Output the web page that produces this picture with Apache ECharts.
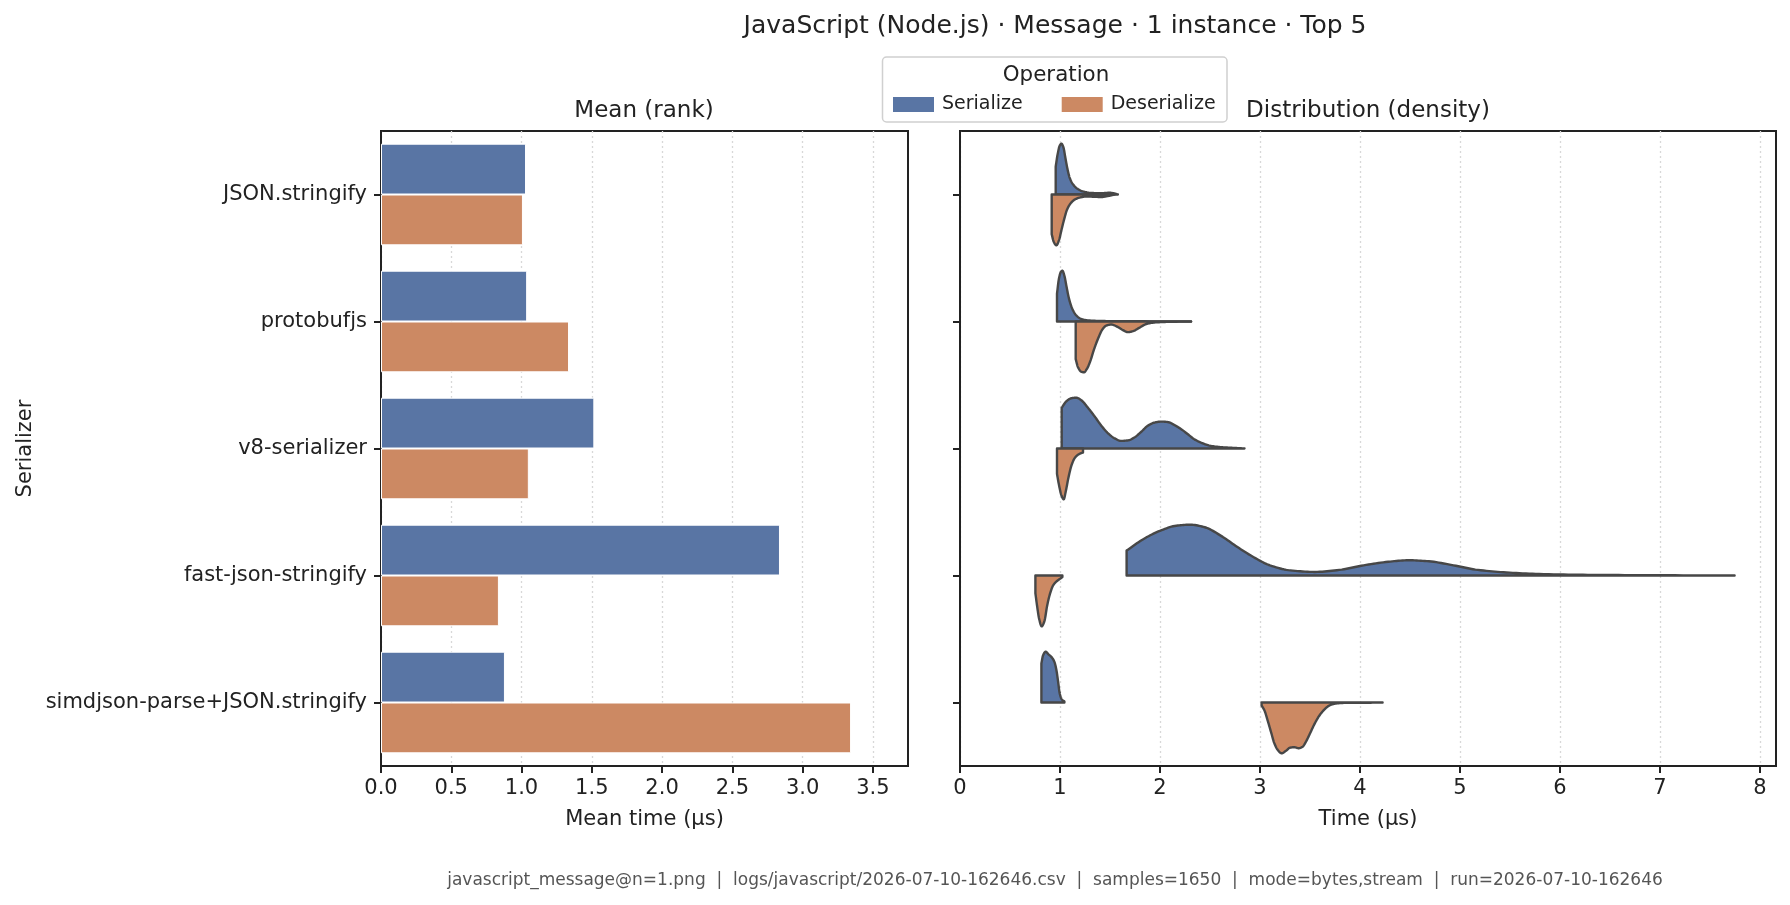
<!DOCTYPE html>
<html><head><meta charset="utf-8">
<script src="https://cdn.jsdelivr.net/npm/echarts@6/dist/echarts.min.js"></script>
<style>html,body{margin:0;padding:0;background:#fff}#chart{width:1790px;height:905px}</style>
</head><body><div id="chart"></div>
<script>
// ---------- data ----------
const categories = ['JSON.stringify', 'protobufjs', 'v8-serializer', 'fast-json-stringify', 'simdjson-parse+JSON.stringify'];
const operations = ['Serialize', 'Deserialize'];
const meanSerialize = [1.032, 1.040, 1.518, 2.839, 0.882];
const meanDeserialize = [1.010, 1.338, 1.052, 0.839, 3.345];
const meanTicks = [0, 0.5, 1, 1.5, 2, 2.5, 3, 3.5];
const timeTicks = [0, 1, 2, 3, 4, 5, 6, 7, 8];

// density outlines: [time (µs), density relative to the half-violin's peak]
const kdeJsonSer = [[0.957,0.55],[0.977,0.80],[0.997,0.96],[1.014,1.0],[1.034,0.93],[1.054,0.72],[1.074,0.51],[1.097,0.33],[1.130,0.20],[1.170,0.12],[1.230,0.06],[1.313,0.03],[1.413,0.025],[1.496,0.035],[1.546,0.02],[1.579,0.0]];
const kdeJsonDes = [[0.917,0.78],[0.937,0.93],[0.964,1.0],[0.990,0.90],[1.017,0.68],[1.044,0.47],[1.070,0.30],[1.104,0.18],[1.147,0.10],[1.197,0.06],[1.263,0.04],[1.347,0.045],[1.413,0.05],[1.480,0.03],[1.546,0.0]];
const kdeProtoSer = [[0.970,0.55],[0.990,0.85],[1.010,0.98],[1.024,1.0],[1.044,0.90],[1.064,0.70],[1.090,0.45],[1.123,0.25],[1.163,0.12],[1.213,0.05],[1.296,0.02],[1.463,0.008],[1.796,0.004],[2.311,0.0]];
const kdeProtoDes = [[1.157,0.74],[1.180,0.90],[1.214,0.99],[1.240,1.0],[1.270,0.93],[1.303,0.78],[1.340,0.55],[1.380,0.34],[1.423,0.16],[1.463,0.08],[1.513,0.06],[1.570,0.10],[1.630,0.17],[1.679,0.21],[1.730,0.19],[1.796,0.12],[1.862,0.05],[1.945,0.02],[2.062,0.008],[2.311,0.0]];
const kdeV8Ser = [[1.017,0.80],[1.064,0.93],[1.114,0.99],[1.163,1.0],[1.213,0.95],[1.280,0.80],[1.347,0.63],[1.413,0.45],[1.480,0.30],[1.546,0.20],[1.613,0.15],[1.680,0.16],[1.746,0.22],[1.813,0.33],[1.879,0.45],[1.946,0.51],[2.013,0.53],[2.079,0.52],[2.146,0.46],[2.212,0.38],[2.279,0.28],[2.345,0.18],[2.429,0.10],[2.512,0.05],[2.612,0.026],[2.729,0.013],[2.845,0.0]];
const kdeV8Des = [[0.970,0.50],[0.990,0.72],[1.014,0.92],[1.037,1.0],[1.060,0.82],[1.087,0.55],[1.117,0.32],[1.150,0.18],[1.183,0.12],[1.213,0.09],[1.230,0.08]];
const kdeFastSer = [[1.666,0.49],[1.837,0.72],[2.000,0.88],[2.163,0.98],[2.306,1.0],[2.448,0.95],[2.611,0.78],[2.774,0.56],[2.937,0.36],[3.100,0.20],[3.304,0.10],[3.548,0.07],[3.793,0.11],[4.037,0.20],[4.282,0.27],[4.486,0.30],[4.689,0.28],[4.934,0.20],[5.178,0.11],[5.464,0.06],[5.790,0.03],[6.279,0.013],[6.890,0.006],[7.746,0.0]];
const kdeFastDes = [[0.754,0.35],[0.771,0.60],[0.791,0.85],[0.817,1.0],[0.844,0.90],[0.871,0.60],[0.897,0.38],[0.930,0.20],[0.963,0.12],[0.997,0.07],[1.024,0.03]];
const kdeSimdSer = [[0.814,0.77],[0.831,0.93],[0.857,1.0],[0.884,0.95],[0.917,0.89],[0.944,0.80],[0.964,0.64],[0.981,0.41],[0.997,0.18],[1.017,0.065],[1.044,0.02]];
const kdeSimdDes = [[3.016,0.06],[3.043,0.15],[3.076,0.35],[3.110,0.58],[3.143,0.80],[3.176,0.93],[3.216,1.0],[3.260,0.95],[3.300,0.89],[3.343,0.88],[3.386,0.90],[3.426,0.87],[3.460,0.77],[3.500,0.61],[3.543,0.43],[3.593,0.26],[3.643,0.14],[3.693,0.06],[3.759,0.02],[3.892,0.005],[4.026,0.005],[4.226,0.0]];

const violinSerialize = [kdeJsonSer, kdeProtoSer, kdeV8Ser, kdeFastSer, kdeSimdSer];
const violinDeserialize = [kdeJsonDes, kdeProtoDes, kdeV8Des, kdeFastDes, kdeSimdDes];

// ---------- style ----------
const FONT = 'DejaVu Sans';
const INK = '#222222';
const BLUE = '#5975a4';
const ORANGE = '#cc8963';
const OUTLINE = '#474747';

// monotone cubic (Fritsch-Carlson) drawing of the outline, in pixel space
function smoothOutline(p) {
  const n = p.length;
  if (n < 3) return p.slice();
  const dx = [], m = [], d = [];
  for (let i = 0; i < n - 1; i++) {
    dx[i] = p[i + 1][0] - p[i][0];
    d[i] = dx[i] === 0 ? 0 : (p[i + 1][1] - p[i][1]) / dx[i];
  }
  m[0] = d[0]; m[n - 1] = d[n - 2];
  for (let i = 1; i < n - 1; i++) {
    if (d[i - 1] * d[i] <= 0) m[i] = 0;
    else {
      const w1 = 2 * dx[i] + dx[i - 1], w2 = dx[i] + 2 * dx[i - 1];
      m[i] = (w1 + w2) / (w1 / d[i - 1] + w2 / d[i]);
    }
  }
  const out = [];
  for (let i = 0; i < n - 1; i++) {
    const steps = 10;
    for (let s = 0; s < steps; s++) {
      const t = s / steps, h = dx[i];
      const h00 = 2*t*t*t - 3*t*t + 1, h10 = t*t*t - 2*t*t + t, h01 = -2*t*t*t + 3*t*t, h11 = t*t*t - t*t;
      out.push([p[i][0] + t * h, h00 * p[i][1] + h10 * h * m[i] + h01 * p[i + 1][1] + h11 * h * m[i + 1]]);
    }
  }
  out.push(p[n - 1]);
  return out;
}

function makeViolinRender(sets, sign) {
  return function (params, api) {
    const ci = params.dataIndex;
    const pts = sets[ci];
    const cy = api.coord([0, ci])[1];
    const amp = api.size([0, 1])[1] * 0.4;
    const px = pts.map(function (p) { return [api.coord([p[0], ci])[0], cy - sign * p[1] * amp]; });
    const curve = smoothOutline(px);
    const poly = [[px[0][0], cy]].concat(curve, [[px[px.length - 1][0], cy]]);
    return {
      type: 'polygon',
      shape: { points: poly },
      style: { fill: api.visual('color'), stroke: OUTLINE, lineWidth: 2.4, lineJoin: 'round' }
    };
  };
}

const tickStyle = { show: true, alignWithLabel: true, length: 7, lineStyle: { color: INK, width: 2 } };
const splitStyle = { show: true, lineStyle: { color: '#d8d8d8', width: 1.3, type: [2, 3] } };
const labelStyle = { color: INK, fontSize: 21, fontFamily: FONT };

const chart = echarts.init(document.getElementById('chart'), null, { renderer: 'canvas' });

chart.setOption({
  backgroundColor: '#ffffff',
  animation: false,
  textStyle: { fontFamily: FONT },
  grid: [
    { left: 381, top: 131, width: 527, height: 635, show: true, borderColor: INK, borderWidth: 2, backgroundColor: 'transparent' },
    { left: 960, top: 131, width: 816, height: 635, show: true, borderColor: INK, borderWidth: 2, backgroundColor: 'transparent' }
  ],
  xAxis: [
    {
      gridIndex: 0, type: 'value', min: 0, max: 3.75, interval: 0.5,
      name: 'Mean time (μs)', nameLocation: 'middle', nameGap: 43,
      nameTextStyle: { color: INK, fontSize: 21, fontFamily: FONT },
      axisLine: { show: true, lineStyle: { color: INK, width: 2 } },
      axisTick: { show: true, length: 7, lineStyle: { color: INK, width: 2 }, customValues: meanTicks },
      axisLabel: Object.assign({ margin: 12, customValues: meanTicks, formatter: function (v) { return v.toFixed(1); } }, labelStyle),
      splitLine: splitStyle
    },
    {
      gridIndex: 1, type: 'value', min: 0, max: 8.16, interval: 1,
      name: 'Time (μs)', nameLocation: 'middle', nameGap: 43,
      nameTextStyle: { color: INK, fontSize: 21, fontFamily: FONT },
      axisLine: { show: true, lineStyle: { color: INK, width: 2 } },
      axisTick: { show: true, length: 7, lineStyle: { color: INK, width: 2 }, customValues: timeTicks },
      axisLabel: Object.assign({ margin: 12, customValues: timeTicks, formatter: function (v) { return String(v); } }, labelStyle),
      splitLine: splitStyle
    }
  ],
  yAxis: [
    {
      gridIndex: 0, type: 'category', data: categories, inverse: true,
      name: 'Serializer', nameLocation: 'middle', nameGap: 345,
      nameTextStyle: { color: INK, fontSize: 21, fontFamily: FONT },
      axisLine: { show: true, lineStyle: { color: INK, width: 2 } },
      axisTick: tickStyle,
      axisLabel: Object.assign({ margin: 14 }, labelStyle),
      splitLine: { show: false }
    },
    {
      gridIndex: 1, type: 'category', data: categories, inverse: true,
      axisLine: { show: true, lineStyle: { color: INK, width: 2 } },
      axisTick: tickStyle,
      axisLabel: { show: false },
      splitLine: { show: false }
    }
  ],
  legend: {
    left: 893, top: 95, padding: 0, itemWidth: 41, itemHeight: 15, itemGap: 39,
    selectedMode: false, z: 10,
    itemStyle: { borderWidth: 0 },
    textStyle: { fontSize: 19, color: INK, fontFamily: FONT, padding: [0, 0, 0, 3] },
    data: [{ name: operations[0], icon: 'rect' }, { name: operations[1], icon: 'rect' }]
  },
  graphic: [
    { type: 'text', z: 10, style: { x: 1055, y: 26, text: 'JavaScript (Node.js) · Message · 1 instance · Top 5', fill: INK, font: '25px "DejaVu Sans"', align: 'center', verticalAlign: 'middle' } },
    { type: 'text', z: 10, style: { x: 644, y: 111, text: 'Mean (rank)', fill: INK, font: '23px "DejaVu Sans"', align: 'center', verticalAlign: 'middle' } },
    { type: 'text', z: 10, style: { x: 1368, y: 111, text: 'Distribution (density)', fill: INK, font: '23px "DejaVu Sans"', align: 'center', verticalAlign: 'middle' } },
    { type: 'rect', z: 5, shape: { x: 882.5, y: 57, width: 344.5, height: 65, r: 4 }, style: { fill: 'rgba(255,255,255,0.9)', stroke: '#d0d0d0', lineWidth: 1.5 } },
    { type: 'text', z: 10, style: { x: 1056, y: 75, text: 'Operation', fill: INK, font: '21.4px "DejaVu Sans"', align: 'center', verticalAlign: 'middle' } },
    { type: 'text', z: 10, style: { x: 1055, y: 881, text: 'javascript_message@n=1.png  |  logs/javascript/2026-07-10-162646.csv  |  samples=1650  |  mode=bytes,stream  |  run=2026-07-10-162646', fill: '#555555', font: '17px "DejaVu Sans"', align: 'center', verticalAlign: 'middle' } }
  ],
  series: [
    {
      name: operations[0], type: 'bar', xAxisIndex: 0, yAxisIndex: 0, data: meanSerialize,
      barCategoryGap: '20%', barGap: '0%',
      itemStyle: { color: BLUE, borderColor: '#ffffff', borderWidth: 1 }
    },
    {
      name: operations[1], type: 'bar', xAxisIndex: 0, yAxisIndex: 0, data: meanDeserialize,
      barCategoryGap: '20%', barGap: '0%',
      itemStyle: { color: ORANGE, borderColor: '#ffffff', borderWidth: 1 }
    },
    {
      name: operations[0], type: 'custom', xAxisIndex: 1, yAxisIndex: 1,
      itemStyle: { color: BLUE },
      renderItem: makeViolinRender(violinSerialize, 1),
      encode: { x: 0, y: 1 },
      data: violinSerialize.map(function (pts, i) { return [pts[0][0], i]; }),
      z: 3
    },
    {
      name: operations[1], type: 'custom', xAxisIndex: 1, yAxisIndex: 1,
      itemStyle: { color: ORANGE },
      renderItem: makeViolinRender(violinDeserialize, -1),
      encode: { x: 0, y: 1 },
      data: violinDeserialize.map(function (pts, i) { return [pts[0][0], i]; }),
      z: 3
    }
  ]
});
</script>
</body></html>
